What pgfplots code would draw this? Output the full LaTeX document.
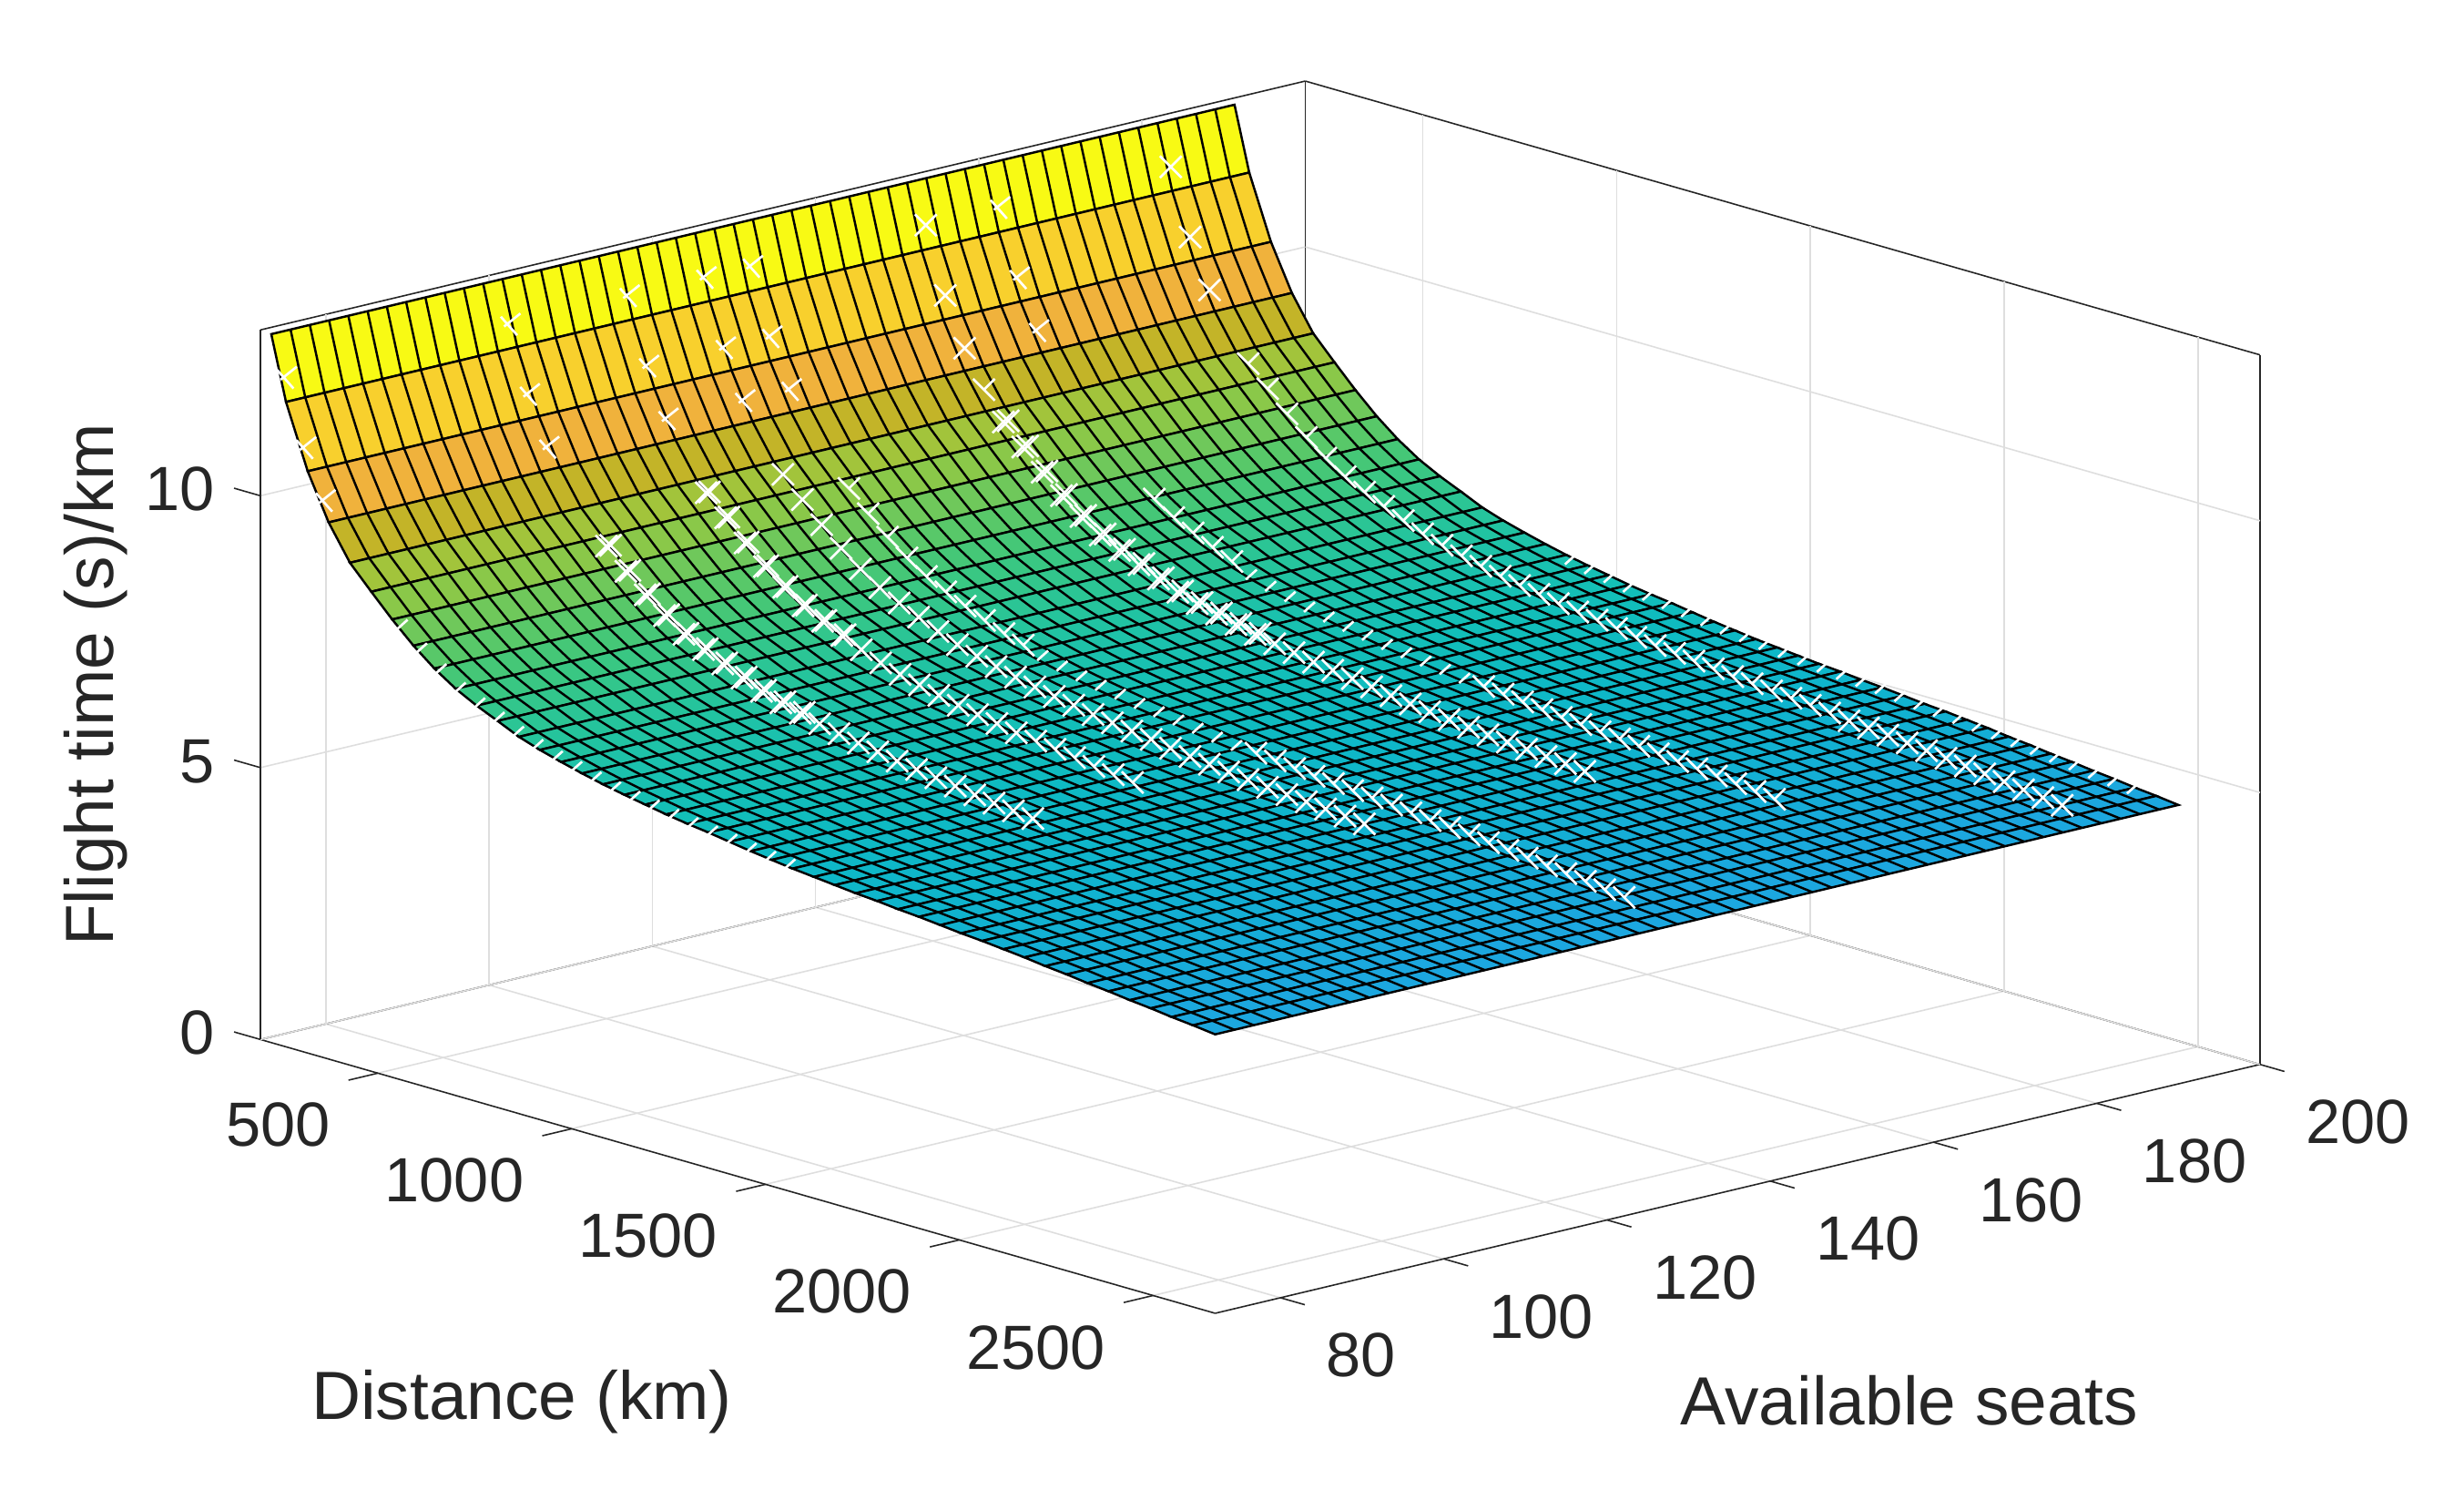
\documentclass[border=0pt]{standalone}
\usepackage{fontspec}
\setmainfont{Liberation Sans}
\usepackage{pgfplots}
\usepackage{pgfplotstable}
\pgfplotsset{compat=1.18}
\definecolor{axdark}{RGB}{38,38,38}
\definecolor{gridgray}{RGB}{222,222,222}

% surface profile: distance, flight time
\pgfplotstableread{
d z
225 13.03
263 11.86
319 10.70
373 9.87
428 9.24
483 8.82
537 8.42
592 8.05
646 7.74
701 7.48
755 7.28
809 7.11
864 6.93
918 6.80
973 6.69
1027 6.59
1081 6.50
1136 6.42
1190 6.35
1244 6.28
1299 6.22
1353 6.17
1407 6.11
1462 6.05
1516 6.00
1570 5.95
1625 5.91
1679 5.87
1733 5.83
1788 5.80
1842 5.76
1896 5.73
1951 5.69
2005 5.65
2059 5.62
2114 5.58
2168 5.54
2222 5.49
2277 5.45
2331 5.40
2385 5.36
2440 5.31
2494 5.27
2548 5.22
2603 5.18
2660 5.13
}\profile

% measured points along the surface
\pgfplotstableread{
d z
250 12.26
300 11.07
350 10.20
400 9.54
450 9.05
500 8.69
550 8.33
600 8.00
650 7.72
700 7.48
750 7.30
800 7.14
850 6.98
900 6.84
950 6.73
1000 6.64
1050 6.55
1100 6.47
1150 6.40
1200 6.34
1250 6.27
1300 6.22
1350 6.17
1400 6.12
1450 6.06
1500 6.01
1550 5.97
1600 5.93
1650 5.89
1700 5.85
1750 5.82
1800 5.79
1850 5.76
1900 5.73
1950 5.69
2000 5.65
2050 5.62
2100 5.59
2150 5.55
2200 5.51
2250 5.47
2300 5.43
2350 5.39
2400 5.35
2450 5.30
2500 5.26
2550 5.22
}\marktab

% marks that the surface partly hides
\pgfdeclareplotmark{xv}{\pgfpathmoveto{\pgfqpoint{-\pgfplotmarksize}{\pgfplotmarksize}}%
  \pgfpathlineto{\pgfqpoint{\pgfplotmarksize}{-\pgfplotmarksize}}%
  \pgfpathmoveto{\pgfqpoint{0pt}{0pt}}%
  \pgfpathlineto{\pgfqpoint{\pgfplotmarksize}{\pgfplotmarksize}}\pgfusepathqstroke}
\pgfdeclareplotmark{xl}{\pgfpathmoveto{\pgfqpoint{\pgfplotmarksize}{\pgfplotmarksize}}%
  \pgfpathlineto{\pgfqpoint{-0.5\pgfplotmarksize}{-0.2\pgfplotmarksize}}%
  \pgfpathmoveto{\pgfqpoint{-0.8\pgfplotmarksize}{0.7\pgfplotmarksize}}%
  \pgfpathlineto{\pgfqpoint{0.7\pgfplotmarksize}{-\pgfplotmarksize}}\pgfusepathqstroke}
\pgfdeclareplotmark{xt}{\pgfpathmoveto{\pgfqpoint{-0.5\pgfplotmarksize}{-0.45\pgfplotmarksize}}%
  \pgfpathlineto{\pgfqpoint{0.5\pgfplotmarksize}{0.45\pgfplotmarksize}}\pgfusepathqstroke}
\pgfdeclareplotmark{xx}{\pgfpathmoveto{\pgfqpoint{-\pgfplotmarksize}{\pgfplotmarksize}}%
  \pgfpathlineto{\pgfqpoint{\pgfplotmarksize}{-\pgfplotmarksize}}%
  \pgfpathmoveto{\pgfqpoint{-\pgfplotmarksize}{-\pgfplotmarksize}}%
  \pgfpathlineto{\pgfqpoint{\pgfplotmarksize}{\pgfplotmarksize}}\pgfusepathqstroke}

\newcommand{\markrun}[4]{\addplot3[only marks, mark=#1, mark size=3.4pt, white,
  mark options={white, line width=0.75pt}, restrict x to domain=#3:#4]
  table[x=d, y expr=#2, z=z] {\marktab};}

\begin{document}
\begin{tikzpicture}
\useasboundingbox (0,0) rectangle (27.06,16.46);
\begin{axis}[
  at={(2.86cm,2.04cm)}, anchor=south west,
  x={(0.00425cm,-0.00122cm)},
  y={(0.08965cm,0.02135cm)},
  z={(0cm,0.597cm)},
  xmin=197, xmax=2660,
  ymin=72, ymax=200,
  zmin=0, zmax=13.05,
  enlargelimits=false,
  clip=false,
  xtick={500,1000,1500,2000,2500},
  ytick={80,100,120,140,160,180,200},
  ztick={0,5,10},
  xtick pos=left, ytick pos=left, ztick pos=left,
  tick align=outside,
  major tick length=0.3cm,
  every tick/.style={draw=none},
  axis line style={axdark, line width=0.45pt},
  grid=major,
  grid style={gridgray, line width=0.45pt},
  /pgf/number format/assume math mode=true,
  /pgf/number format/1000 sep={},
  tick label style={font=\fontsize{19.5}{23}\selectfont, text=axdark},
  xticklabel style={anchor=east, xshift=-0.11cm, yshift=-0.5cm},
  yticklabel style={anchor=west, xshift=0.09cm, yshift=-0.55cm},
  zticklabel style={anchor=east, xshift=-0.09cm, yshift=0.14cm},
  colormap={flight}{
    rgb255=(30,165,225); rgb255=(27,168,222); rgb255=(20,174,214); rgb255=(15,180,205);
    rgb255=(14,186,196); rgb255=(18,190,185); rgb255=(26,193,175); rgb255=(33,195,162);
    rgb255=(42,197,150); rgb255=(52,198,137); rgb255=(62,199,125); rgb255=(78,200,112);
    rgb255=(96,200,100); rgb255=(112,200,90); rgb255=(130,200,78); rgb255=(146,199,68);
    rgb255=(160,197,60); rgb255=(178,190,50); rgb255=(195,180,40); rgb255=(197,178,40);
    rgb255=(215,178,48); rgb255=(240,178,60); rgb255=(243,180,58); rgb255=(245,192,52);
    rgb255=(247,203,47); rgb255=(248,208,45); rgb255=(248,208,45); rgb255=(248,220,38);
    rgb255=(248,235,28); rgb255=(248,250,20); rgb255=(248,250,20); rgb255=(248,250,20);
    rgb255=(248,250,20)
  },
  point meta min=5, point meta max=13,
]
% tick marks, each running along the other floor axis
\pgfplotsinvokeforeach{500,1000,1500,2000,2500}{
  \draw[axdark, line width=0.45pt] (axis cs:#1,72,0) -- (axis cs:#1,68.4,0);
}
\pgfplotsinvokeforeach{80,100,120,140,160,180,200}{
  \draw[axdark, line width=0.45pt] (axis cs:2660,#1,0) -- (axis cs:2723,#1,0);
}
\pgfplotsinvokeforeach{0,5,10}{
  \draw[axdark, line width=0.45pt] (axis cs:197,72,#1) -- (axis cs:129,72,#1);
}
\addplot3[surf, shader=faceted, faceted color=black, line width=0.7pt, mesh/ordering=y varies, mesh/rows=2] table[x=d, y=s, z=z] {
d s z
225 72 13.03
225 190 13.03

263 72 11.86
263 190 11.86

319 72 10.70
319 190 10.70

373 72 9.87
373 190 9.87

428 72 9.24
428 190 9.24

483 72 8.82
483 190 8.82

537 72 8.42
537 190 8.42

592 72 8.05
592 190 8.05

646 72 7.74
646 190 7.74

701 72 7.48
701 190 7.48

755 72 7.28
755 190 7.28

809 72 7.11
809 190 7.11

864 72 6.93
864 190 6.93

918 72 6.80
918 190 6.80

973 72 6.69
973 190 6.69

1027 72 6.59
1027 190 6.59

1081 72 6.50
1081 190 6.50

1136 72 6.42
1136 190 6.42

1190 72 6.35
1190 190 6.35

1244 72 6.28
1244 190 6.28

1299 72 6.22
1299 190 6.22

1353 72 6.17
1353 190 6.17

1407 72 6.11
1407 190 6.11

1462 72 6.05
1462 190 6.05

1516 72 6.00
1516 190 6.00

1570 72 5.95
1570 190 5.95

1625 72 5.91
1625 190 5.91

1679 72 5.87
1679 190 5.87

1733 72 5.83
1733 190 5.83

1788 72 5.80
1788 190 5.80

1842 72 5.76
1842 190 5.76

1896 72 5.73
1896 190 5.73

1951 72 5.69
1951 190 5.69

2005 72 5.65
2005 190 5.65

2059 72 5.62
2059 190 5.62

2114 72 5.58
2114 190 5.58

2168 72 5.54
2168 190 5.54

2222 72 5.49
2222 190 5.49

2277 72 5.45
2277 190 5.45

2331 72 5.40
2331 190 5.40

2385 72 5.36
2385 190 5.36

2440 72 5.31
2440 190 5.31

2494 72 5.27
2494 190 5.27

2548 72 5.22
2548 190 5.22

2603 72 5.18
2603 190 5.18

2660 72 5.13
2660 190 5.13
};
% seat grid lines of the surface
\pgfplotsinvokeforeach{74.36,76.72,79.08,81.44,83.8,86.16,88.52,90.88,93.24,95.6,97.96,100.32,102.68,105.04,107.4,109.76,112.12,114.48,116.84,119.2,121.56,123.92,126.28,128.64,131,133.36,135.72,138.08,140.44,142.8,145.16,147.52,149.88,152.24,154.6,156.96,159.32,161.68,164.04,166.4,168.76,171.12,173.48,175.84,178.2,180.56,182.92,185.28,187.64}{
  \addplot3[black, line width=0.7pt, no marks] table[x=d, y expr=#1, z=z] {\profile};
}
% edge runs, mostly hidden
\markrun{xl}{72.6}{240}{360}
\markrun{xt}{72.6}{540}{1550}
\markrun{xt}{189.6}{1100}{2550}
% curve A
\markrun{xl}{100}{240}{360}
\markrun{xx}{100}{490}{1600}
\markrun{xx}{100.5}{490}{1000}
% curve B
\markrun{xl}{114.6}{240}{360}
\markrun{xx}{114.6}{440}{1290}
\markrun{xx}{115}{440}{800}
\markrun{xv}{114.6}{1300}{1550}
% curve C
\markrun{xl}{124}{240}{360}
\markrun{xx}{124}{450}{1950}
% curve D
\markrun{xl}{129.7}{240}{360}
\markrun{xv}{129.7}{490}{960}
\markrun{xt}{129.7}{970}{1510}
\markrun{xv}{129.7}{1520}{2500}
% curve E
\markrun{xx}{151}{240}{360}
\markrun{xv}{151}{390}{410}
\markrun{xx}{151}{450}{1950}
\markrun{xx}{151.6}{450}{1100}
% curve F
\markrun{xl}{160}{240}{360}
\markrun{xv}{160}{620}{850}
\markrun{xt}{160}{860}{1490}
\markrun{xv}{160}{1500}{2250}
% curve G
\markrun{xx}{181}{240}{360}
\markrun{xv}{181}{450}{1950}
\markrun{xx}{181}{1960}{2550}
\end{axis}
\node[text=axdark, font=\fontsize{21.3}{25}\selectfont] at (5.73,1.07) {Distance (km)};
\node[text=axdark, font=\fontsize{21.3}{25}\selectfont] at (20.97,1.08) {Available seats};
\node[text=axdark, font=\fontsize{21.3}{25}\selectfont, rotate=90] at (1.05,8.94) {Flight time (s)/km};
\end{tikzpicture}
\end{document}
